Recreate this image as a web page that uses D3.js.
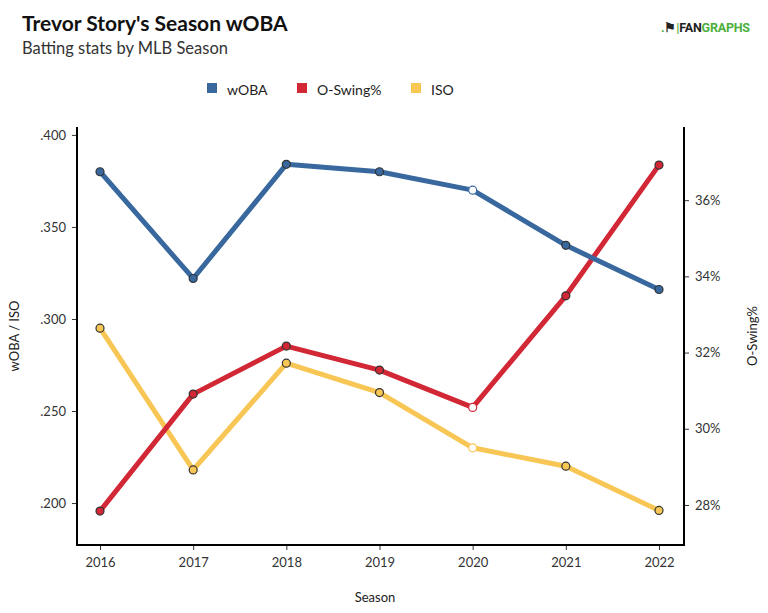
<!DOCTYPE html>
<html><head><meta charset="utf-8">
<script src="https://cdn.jsdelivr.net/npm/d3@7"></script>
<style>body{margin:0;background:#fff;font-family:Lato,"Open Sans",sans-serif;}</style>
</head><body><svg id="c" width="768" height="613"></svg>
<script>
const seasons = [2016, 2017, 2018, 2019, 2020, 2021, 2022];
const woba = [0.380, 0.322, 0.384, 0.380, 0.370, 0.340, 0.316];
const iso = [0.295, 0.218, 0.276, 0.260, 0.230, 0.220, 0.196];
const oswing = [27.84, 30.91, 32.17, 31.54, 30.56, 33.49, 36.92];
const leftTicks = [0.200, 0.250, 0.300, 0.350, 0.400];
const rightTicks = [28, 30, 32, 34, 36];
const hollowSeason = 2020;

const colors = {woba:"#38689e", osw:"#d22735", iso:"#f8c654"};
const svg = d3.select("#c");
const L = 77, R = 684, T = 127, B = 545;

const x = d3.scalePoint().domain(seasons).range([100, 659]);
const yL = d3.scaleLinear().domain([0.1772, 0.4043]).range([B, T]);
const yR = d3.scaleLinear().domain([26.95, 37.92]).range([B, T]);

// Title
svg.append("text").attr("x",22).attr("y",31).attr("font-size",21).attr("font-weight","bold")
  .attr("fill","#111").text("Trevor Story's Season wOBA");
svg.append("text").attr("x",22).attr("y",54).attr("font-size",16.5).attr("fill","#333")
  .text("Batting stats by MLB Season");
// Logo
const lg = svg.append("text").attr("x",661).attr("y",32).attr("font-size",12.5).attr("font-weight","bold")
  .attr("font-family","Roboto, Arial, sans-serif").attr("letter-spacing",-0.2);
lg.append("tspan").attr("fill","#4caf3e").text(".");
lg.append("tspan").attr("fill","#222").text("\u2691");
lg.append("tspan").attr("fill","#4caf3e").text("|");
lg.append("tspan").attr("fill","#222").text("FAN");
lg.append("tspan").attr("fill","#4caf3e").text("GRAPHS");

// Legend
const legend = [["wOBA",colors.woba,207],["O-Swing%",colors.osw,297],["ISO",colors.iso,411]];
legend.forEach(([t,c,lx])=>{
  svg.append("rect").attr("x",lx).attr("y",83).attr("width",10).attr("height",10).attr("fill",c);
  svg.append("text").attr("x",lx+20).attr("y",95).attr("font-size",14).attr("fill","#222").text(t);
});

// Axes
const axL = svg.append("g").attr("transform",`translate(${L},0)`)
  .call(d3.axisLeft(yL).tickValues(leftTicks).tickFormat(d=>d3.format(".3f")(d).replace(/^0/,"")).tickSize(5).tickPadding(6));
const axR = svg.append("g").attr("transform",`translate(${R},0)`)
  .call(d3.axisRight(yR).tickValues(rightTicks).tickFormat(d=>d+"%").tickSize(5).tickPadding(6));
const axB = svg.append("g").attr("transform",`translate(0,${B})`)
  .call(d3.axisBottom(x).tickSize(5).tickPadding(8));
[axL,axR,axB].forEach(a=>{
  a.select(".domain").remove();
  a.selectAll(".tick line").attr("stroke","#333");
  a.selectAll(".tick text").attr("font-size",13).attr("fill","#333").attr("font-family","Lato, sans-serif");
});
svg.append("line").attr("x1",L).attr("x2",L).attr("y1",T).attr("y2",B+1).attr("stroke","#000").attr("stroke-width",2);
svg.append("line").attr("x1",R).attr("x2",R).attr("y1",T).attr("y2",B+1).attr("stroke","#000").attr("stroke-width",2);
svg.append("line").attr("x1",L-1).attr("x2",R+1).attr("y1",B).attr("y2",B).attr("stroke","#000").attr("stroke-width",2);

// Axis titles
svg.append("text").attr("transform","translate(19,336) rotate(-90)").attr("text-anchor","middle")
  .attr("font-size",13).attr("fill","#222").text("wOBA / ISO");
svg.append("text").attr("transform","translate(757,336) rotate(-90)").attr("text-anchor","middle")
  .attr("font-size",13).attr("fill","#222").text("O-Swing%");
svg.append("text").attr("x",375).attr("y",602).attr("text-anchor","middle")
  .attr("font-size",13).attr("fill","#222").text("Season");

// Series
function series(vals, scale, color){
  const pts = seasons.map((s,i)=>[x(s), scale(vals[i]), s]);
  svg.append("path").attr("d", d3.line()(pts.map(p=>[p[0],p[1]]))).attr("fill","none")
    .attr("stroke",color).attr("stroke-width",5).attr("stroke-linejoin","round");
  svg.selectAll(null).data(pts).enter().append("circle")
    .attr("cx",d=>d[0]).attr("cy",d=>d[1]).attr("r",4)
    .attr("fill",d=>d[2]===hollowSeason?"#fff":color)
    .attr("stroke",d=>d[2]===hollowSeason?color:"#333").attr("stroke-width",1.2);
}
series(iso, yL, colors.iso);
series(oswing, yR, colors.osw);
series(woba, yL, colors.woba);
</script></body></html>
